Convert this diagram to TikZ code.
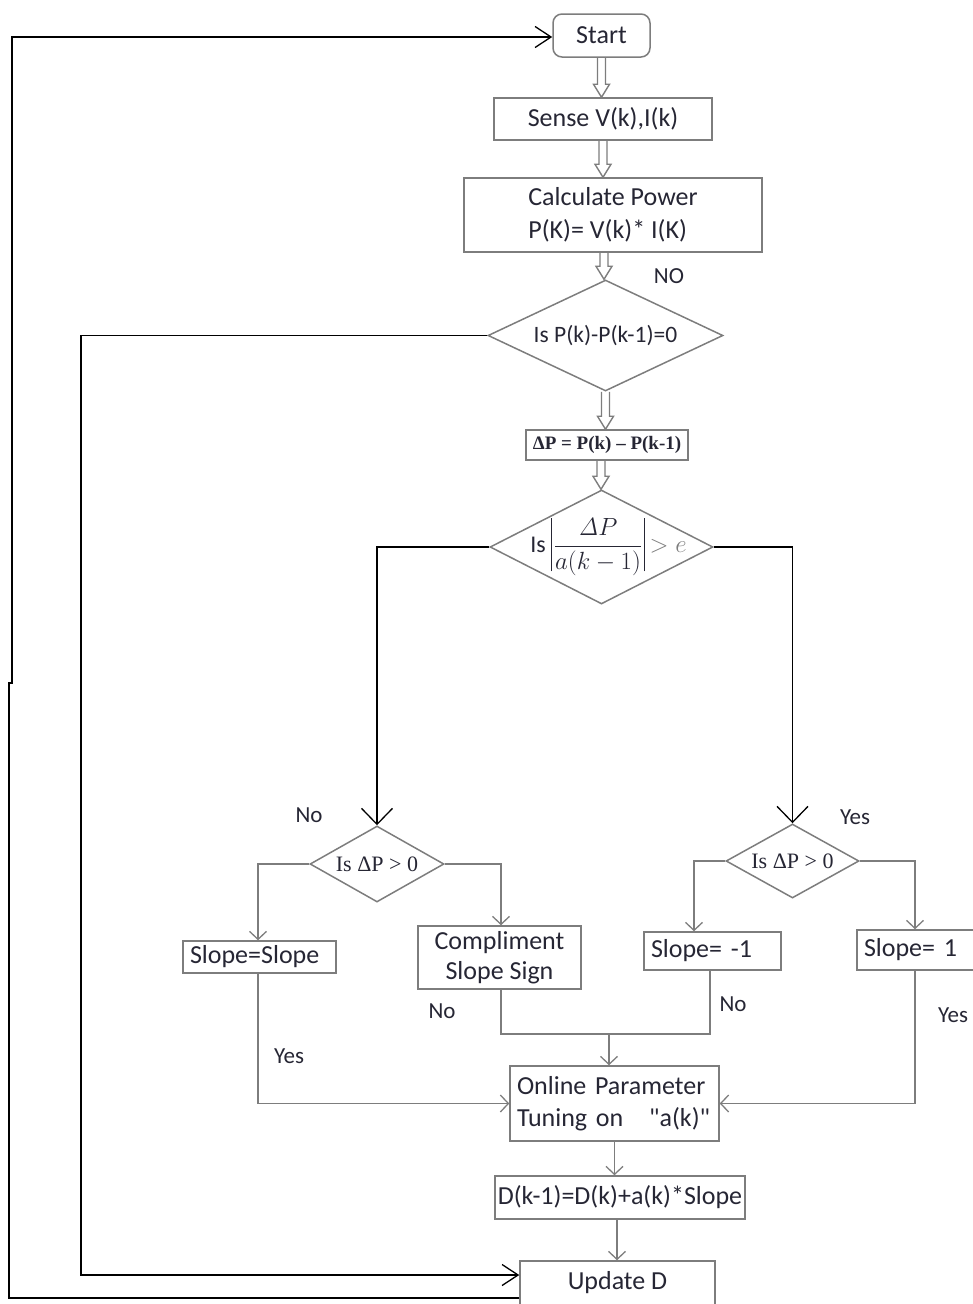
\documentclass[tikz,border=0pt]{standalone}
\usepackage[no-math]{fontspec}
\setmainfont{Carlito}
\newfontfamily\plainquote{Carlito}[Ligatures=TeXOff]
\newfontfamily\tnr{Liberation Serif}
\usetikzlibrary{shapes.geometric,arrows.meta,calc}
\definecolor{ink}{RGB}{38,38,52}
\definecolor{edge}{RGB}{125,125,125}
\newcommand\absbar{\rule[-19pt]{1.3pt}{53pt}}

\begin{document}
\begin{tikzpicture}[x=1pt,y=-1pt,
  every node/.style={text=ink},
  box/.style={draw=edge,line width=1.5pt,inner sep=0pt,align=center,
    font=\fontsize{26}{32}\selectfont},
  lbox/.style={box,align=left,inner xsep=7pt},
  dec/.style={draw=edge,line width=1.5pt,shape=diamond,inner sep=0pt},
  lab/.style={font=\fontsize{23}{27}\selectfont},
  bline/.style={line width=1.4pt,black},
  gline/.style={line width=1.4pt,edge},
  gtip/.style={-{Straight Barb[length=8pt,width=17pt,line width=1.3pt]}},
  btip/.style={-{Straight Barb[length=16pt,width=31pt,line width=1.3pt]}},
  rtip/.style={-{Straight Barb[length=16pt,width=21pt,line width=1.3pt]}},
  blockarr/.style={draw=edge,line width=1.4pt,to path={
    let \p1=(\tikztostart), \p2=(\tikztotarget) in
    (\x1-4pt,\y1) -- (\x1-4pt,\y2+13pt) -- (\x1-8pt,\y2+13pt) -- (\x1,\y2)
    -- (\x1+8pt,\y2+13pt) -- (\x1+4pt,\y2+13pt) -- (\x1+4pt,\y1)}}
]
\useasboundingbox (0,0) rectangle (972,1304);

% upper chain of boxes and tests
\node[box,rounded corners=9pt,minimum width=97pt,minimum height=43pt] (start) at (601.5,35.5) {Start};
\node[box,minimum width=218pt,minimum height=42pt] (sense) at (603,119) {Sense V(k),I(k)};
\node[box,align=left,minimum width=298pt,minimum height=74pt,font=\fontsize{26}{33}\selectfont] (calc) at (613,215)
  {Calculate Power\\P(K)= V(k)* I(K)};
\node[dec,minimum width=235pt,minimum height=111pt] (d1) at (605.5,335.5)
  {\makebox[0pt]{\fontsize{23.5}{28}\selectfont Is P(k)-P(k-1)=0}};
\node[box,minimum width=162pt,minimum height=30pt] (dp) at (607,445)
  {\fontsize{19}{22}\selectfont\tnr\bfseries ΔP = P(k) – P(k-1)};
\node[dec,minimum width=223pt,minimum height=114pt] (d2) at (601.5,547)
  {\makebox[0pt]{\hspace*{14pt}\fontsize{24}{28}\selectfont Is\hspace{5pt}\absbar\hspace{2pt}%
   $\displaystyle\frac{\mathit{\Delta}P}{a(k-1)}$\hspace{2pt}\absbar\textcolor{edge}{$\displaystyle\,>e$}}};

% sign tests
\node[dec,minimum width=134pt,minimum height=76pt] (d3) at (377,864)
  {\makebox[0pt]{\fontsize{22}{26}\selectfont\tnr Is ΔP > 0}};
\node[dec,minimum width=133pt,minimum height=74pt] (d4) at (792.5,861)
  {\makebox[0pt]{\fontsize{22}{26}\selectfont\tnr Is ΔP > 0}};

% slope boxes
\node[lbox,text width=139pt,minimum height=32pt] (ss) at (259.5,957) {Slope=Slope};
\node[box,minimum width=163pt,minimum height=63pt,font=\fontsize{26}{30}\selectfont] (comp) at (499.5,957.5)
  {Compliment\\Slope Sign};
\node[lbox,text width=123pt,minimum height=38pt] (sm1) at (712.5,951) {Slope= -1};
\node[lbox,text width=116pt,minimum height=40pt] (s1) at (922,950) {Slope= 1};

% lower chain
\node[lbox,text width=195pt,minimum height=75pt,font=\fontsize{26}{32}\selectfont] (online) at (614.5,1103.5)
  {Online Parameter\\Tuning on\ \ \ {\plainquote "a(k)"}};
\node[box,minimum width=250pt,minimum height=43pt] (dk) at (620,1197.5) {D(k-1)=D(k)+a(k)*Slope};
\node[box,minimum width=195pt,minimum height=44pt] (upd) at (617.5,1283) {Update D};

% hollow arrows between the upper blocks
\draw[blockarr] (start.south) to (start.south |- sense.north);
\draw[blockarr] (sense.south) to (sense.south |- calc.north);
\draw[blockarr] ([xshift=-9pt]calc.south) to ([xshift=-9pt]calc.south |- d1.north);
\draw[blockarr] (d1.south) to (d1.south |- dp.north);
\draw[blockarr] ([xshift=-6pt]dp.south) to ([xshift=-6pt]dp.south |- d2.north);

% branches from the threshold test
\draw[bline,btip] (d2.west) -| (d3.north);
\draw[bline,btip] (d2.east) -| (d4.north);

% branches from the sign tests
\draw[gline,gtip] (d3.west) -| ([xshift=-1.5pt]ss.north);
\draw[gline,gtip] (d3.east) -| ([xshift=1.5pt]comp.north);
\draw[gline,gtip] (d4.west) -| ([xshift=-18.5pt]sm1.north);
\draw[gline,gtip] (d4.east) -| ([xshift=-7pt]s1.north);

% merging into the tuning block
\coordinate (m) at (609,1034);
\draw[gline] ([xshift=1.5pt]comp.south) |- (m) -| ([xshift=-2.5pt]sm1.south);
\draw[gline,gtip] (m) -- (m |- online.north);
\draw[gline,gtip] ([xshift=-1.5pt]ss.south) |- (online.west);
\draw[gline,gtip] ([xshift=-7pt]s1.south) |- (online.east);
\draw[gline,gtip] (online.south) -- (online.south |- dk.north);
\draw[gline,gtip] ([xshift=-3pt]dk.south) -- ([xshift=-3pt]dk.south |- upd.north);

% return paths
\draw[bline,rtip] (d1.west) -- (81,335.5) |- ([yshift=8pt]upd.west);
\draw[bline,rtip] ([yshift=-15pt]upd.west) -| (9,683) -- (12,683) |- ([yshift=-1.5pt]start.west);

% branch labels
\node[lab] (lNO) at (669,276) {NO};
\node[lab] (lno1) at (309,815) {No};
\node[lab] (lyes1) at (855,817) {Yes};
\node[lab] (lno2) at (442,1011) {No};
\node[lab] (lno3) at (733,1004) {No};
\node[lab] (lyes2) at (289,1056) {Yes};
\node[lab] (lyes3) at (953,1015) {Yes};
\end{tikzpicture}
\end{document}
